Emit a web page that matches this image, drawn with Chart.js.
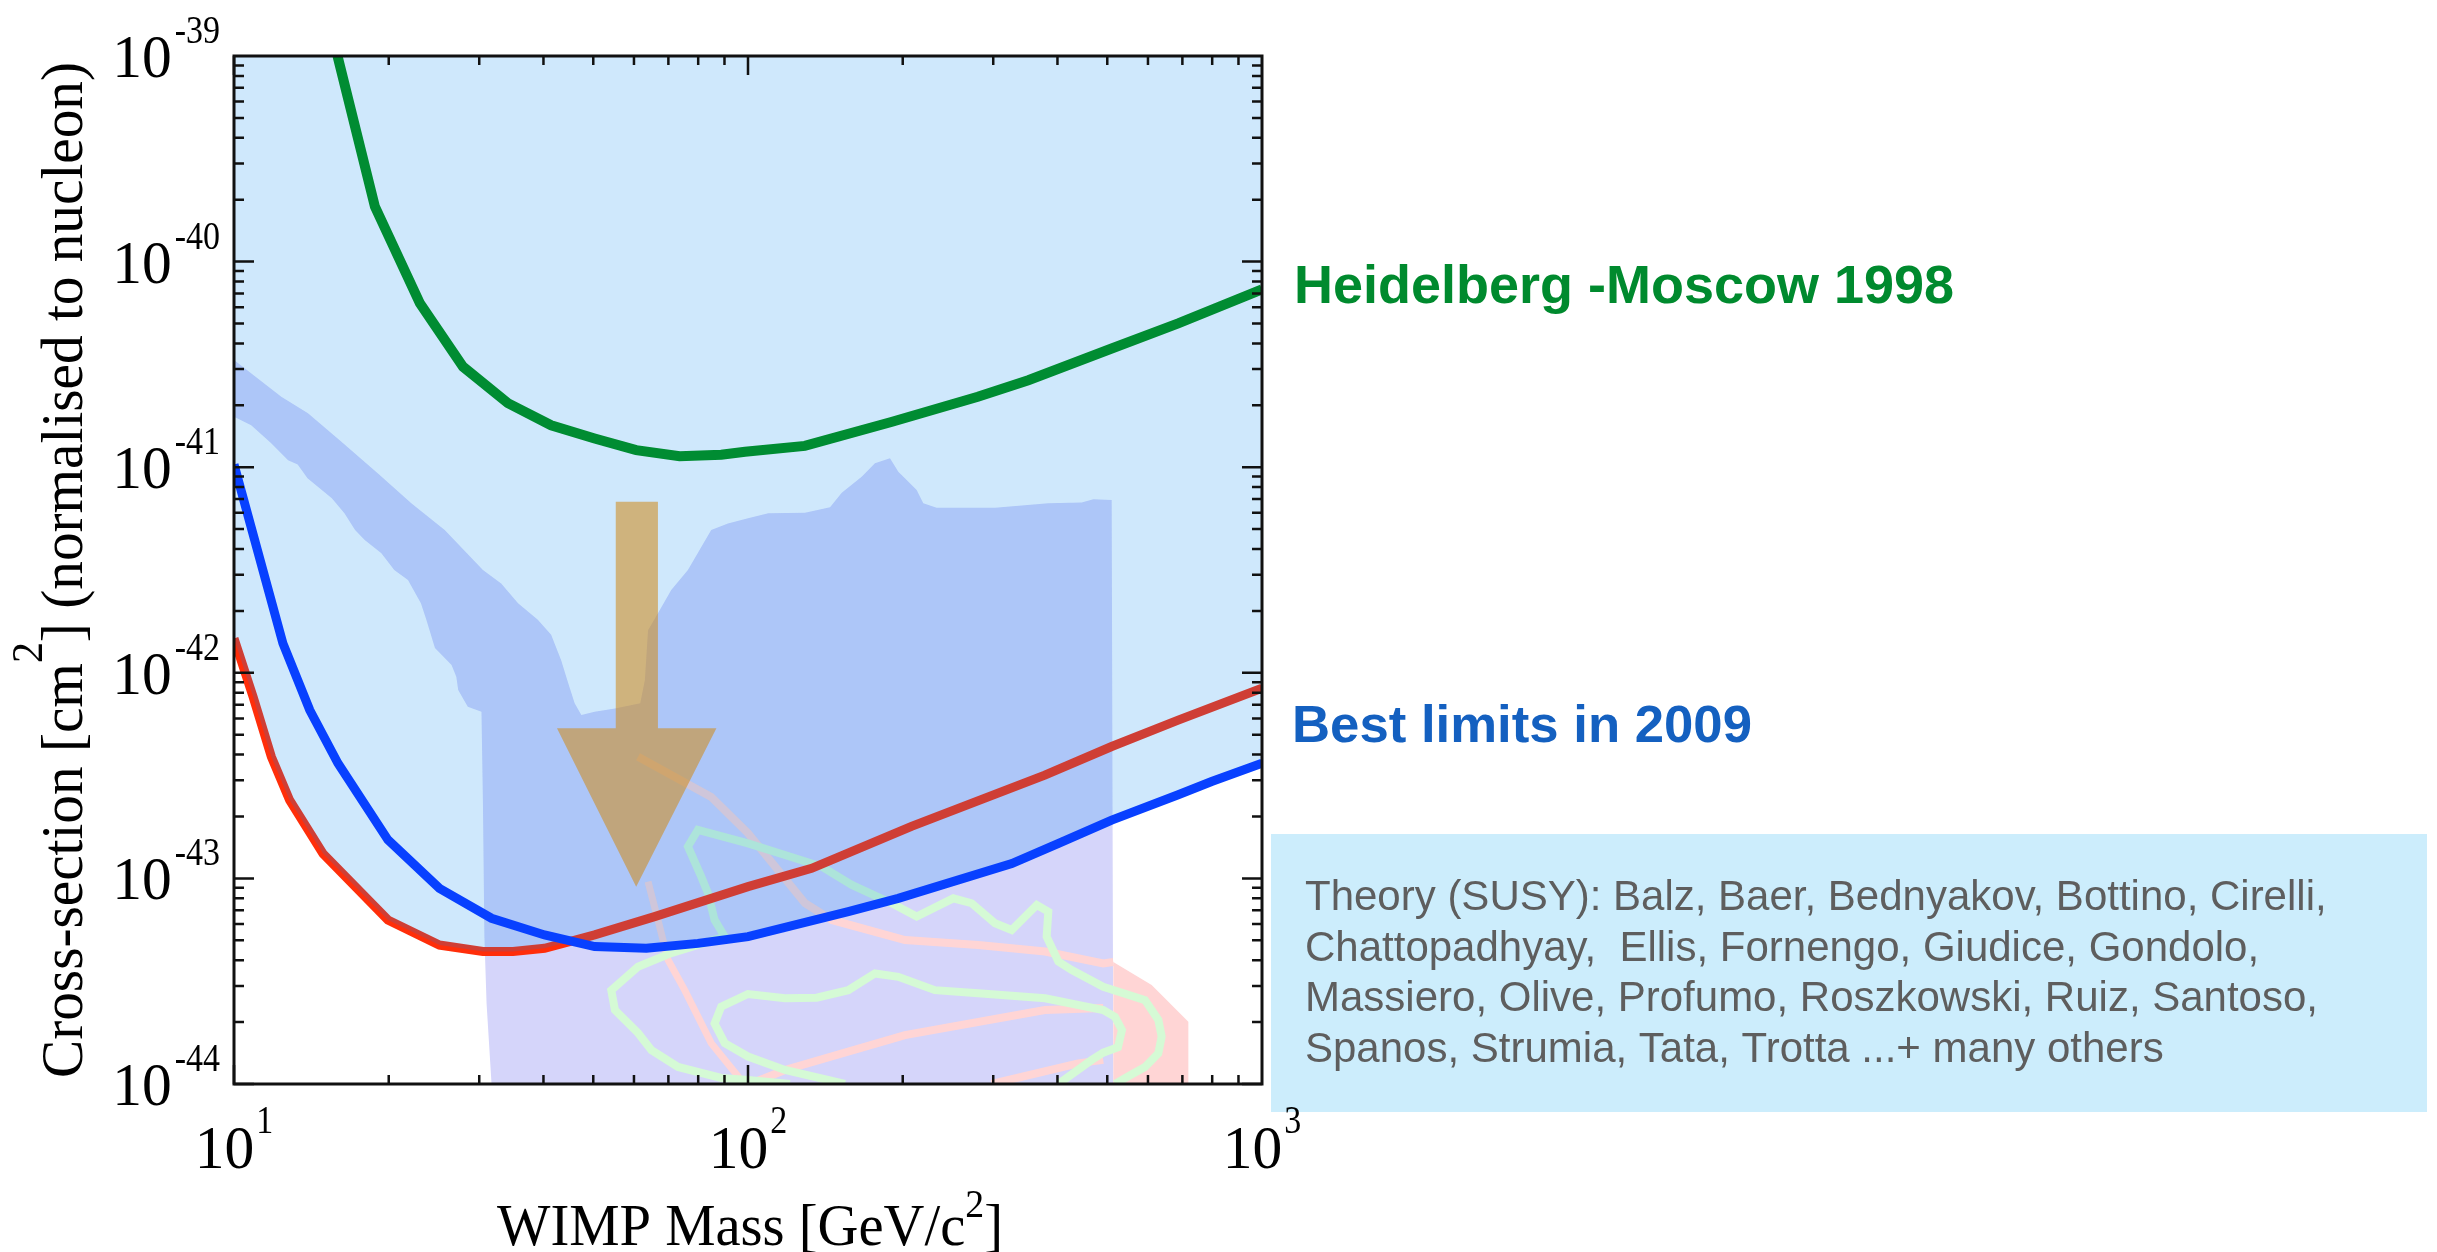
<!DOCTYPE html>
<html>
<head>
<meta charset="utf-8">
<title>WIMP cross-section limits</title>
<script src="https://cdn.jsdelivr.net/npm/chart.js@4.4.1/dist/chart.umd.min.js"></script>
<style>
  html, body { margin: 0; padding: 0; background: #fff; overflow: hidden; }
  #limits { display: block; }
</style>
</head>
<body>
<canvas id="limits" width="2437" height="1252"></canvas>
<script>
// WIMP mass [GeV/c^2] and cross-section [cm^2]

// Heidelberg-Moscow 1998 limit (green)
var hmMass  = [15.9, 18.8, 23.0, 27.9, 34.1, 41.4, 50.3, 60.6, 73.6, 88.7, 98.7, 129, 190, 280, 351, 510, 687, 1000];
var hmSigma = [1e-39, 1.85e-40, 6.27e-41, 3.08e-41, 2.05e-41, 1.60e-41, 1.38e-41, 1.21e-41, 1.13e-41, 1.15e-41,
               1.19e-41, 1.27e-41, 1.66e-41, 2.20e-41, 2.65e-41, 3.78e-41, 5.01e-41, 7.33e-41];

// best limits in 2009 (blue)
var bestMass  = [10, 12.45, 14.04, 15.93, 19.93, 25.1, 31.7, 40.2, 50.3, 63.4, 79.9, 100, 156.7, 196, 326, 402, 510, 687, 798, 1000];
var bestSigma = [1.03e-41, 1.39e-42, 6.59e-43, 3.63e-43, 1.54e-43, 8.95e-44, 6.40e-44, 5.31e-44, 4.66e-44, 4.57e-44,
                 4.83e-44, 5.21e-44, 6.89e-44, 8.0e-44, 1.18e-43, 1.48e-43, 1.92e-43, 2.55e-43, 2.96e-43, 3.63e-43];

// second 2009 limit (red)
var redMass  = [10, 10.89, 11.82, 12.83, 14.9, 19.93, 25.1, 30.5, 34.9, 40.2, 50.3, 65.8, 100, 133, 208, 378, 510, 687, 1000];
var redSigma = [1.47e-42, 7.66e-43, 3.91e-43, 2.40e-43, 1.32e-43, 6.28e-44, 4.74e-44, 4.41e-44, 4.41e-44, 4.57e-44,
                5.31e-44, 6.52e-44, 9.12e-44, 1.12e-43, 1.79e-43, 3.18e-43, 4.38e-43, 5.89e-43, 8.41e-43];

// where the red and blue limits cross
var crossMass = 45.3;
var crossSigma = 4.95e-44;

// SUSY theory region outline (band + box), walked round as a closed shape
var susyMass  = [10.0, 12.36, 13.93, 16.18, 19.06, 22.13, 25.7, 30.5, 33.1, 35.7, 39.0, 41.4, 43.3, 44.7, 46.0, 47.4,
                 50.3, 55.1, 61.7, 63.0, 63.9, 66.8, 70.9, 76.4, 84.8, 91.4, 100, 109.5, 129.1, 144.4, 152.2, 166.4,
                 176.6, 188.9, 196.1, 212.9, 219.3, 232.8, 302.4, 383.9, 445.9, 469.8, 510, 513.7, 31.7, 31.0, 30.7,
                 30.5, 30.3, 28.5, 27.3, 27.07, 26.5, 24.6, 23.67, 23.1, 21.8, 20.5, 19.35, 17.96, 17.2, 16.4, 15.5,
                 13.9, 13.3, 12.74, 11.8, 10.8, 10.0];
var susySigma = [3.32e-41, 2.20e-41, 1.83e-41, 1.33e-41, 9.33e-42, 6.67e-42, 4.95e-42, 3.16e-42, 2.72e-42, 2.18e-42,
                 1.81e-42, 1.53e-42, 1.15e-42, 8.89e-43, 7.11e-43, 6.24e-43, 6.47e-43, 6.71e-43, 7.11e-43, 9.23e-43,
                 1.61e-42, 1.95e-42, 2.53e-42, 3.16e-42, 4.95e-42, 5.33e-42, 5.65e-42, 5.97e-42, 6.01e-42, 6.38e-42,
                 7.52e-42, 8.99e-42, 1.045e-41, 1.104e-41, 9.51e-42, 7.74e-42, 6.67e-42, 6.35e-42, 6.35e-42, 6.67e-42,
                 6.73e-42, 6.98e-42, 6.92e-42, 1e-44, 1e-44, 2.47e-44, 5.21e-44, 2.32e-43, 6.47e-43, 6.84e-43, 8.24e-43,
                 9.57e-43, 1.09e-42, 1.32e-42, 1.81e-42, 2.18e-42, 2.83e-42, 3.16e-42, 3.81e-42, 4.43e-42, 4.95e-42,
                 5.97e-42, 7.06e-42, 8.83e-42, 1.03e-41, 1.08e-41, 1.31e-41, 1.60e-41, 1.76e-41];

// theory contours (green and pink)
var greenOuterMass  = [120.7, 100, 88.7, 73.1, 64.9, 61.1, 55.1, 54.2, 61.1, 70.9, 90.1, 86.1, 83.6, 81.1, 76.4, 79.9,
                       100, 118, 139.1, 159.2, 190.4, 212.9, 250.8, 272.4, 302.4, 325.8, 364.6, 383.9, 381.1, 401.6,
                       426.5, 491, 592, 628.5, 638, 628.5, 592, 549.5, 517.6];
var greenOuterSigma = [1e-44, 1.045e-44, 1.07e-44, 1.21e-44, 1.46e-44, 1.77e-44, 2.29e-44, 2.86e-44, 3.72e-44, 4.33e-44,
                       5.21e-44, 6.28e-44, 8.47e-44, 1.02e-43, 1.43e-43, 1.72e-43, 1.48e-43, 1.30e-43, 1.14e-43, 9.29e-44,
                       7.57e-44, 6.52e-44, 8.0e-44, 7.57e-44, 6.05e-44, 5.61e-44, 7.43e-44, 6.89e-44, 5.21e-44, 3.94e-44,
                       3.58e-44, 2.97e-44, 2.56e-44, 2.05e-44, 1.70e-44, 1.41e-44, 1.21e-44, 1.09e-44, 1e-44];
var greenInnerMass  = [154.4, 118, 100, 90.1, 86.1, 88.7, 100, 118, 136, 156.7, 176.6, 196.1, 231, 280.5, 378.4, 491,
                       517.6, 534, 524.5, 491, 466.4, 401.6];
var greenInnerSigma = [1e-44, 1.17e-44, 1.36e-44, 1.58e-44, 1.97e-44, 2.38e-44, 2.74e-44, 2.61e-44, 2.63e-44, 2.86e-44,
                       3.45e-44, 3.32e-44, 2.86e-44, 2.76e-44, 2.61e-44, 2.29e-44, 2.12e-44, 1.83e-44, 1.51e-44, 1.42e-44,
                       1.31e-44, 1e-44];
var pinkAMass  = [61.1, 84.8, 100, 129.1, 145.5, 202, 280.5, 378.4, 491, 513.7];
var pinkASigma = [3.91e-43, 2.49e-43, 1.66e-43, 7.57e-44, 6.28e-44, 5.01e-44, 4.74e-44, 4.41e-44, 3.86e-44, 3.92e-44];
var pinkBMass  = [100.9, 118, 202, 378, 491];
var pinkBSigma = [1e-44, 1.17e-44, 1.73e-44, 2.29e-44, 2.34e-44];
var pinkCMass  = [63.9, 66.8, 69.9, 75.3, 84.8, 95.6, 98.5];
var pinkCSigma = [9.64e-44, 6.28e-44, 4.01e-44, 2.86e-44, 1.58e-44, 1.09e-44, 1e-44];
var pinkDMass  = [298, 439, 491];
var pinkDSigma = [1e-44, 1.26e-44, 1.31e-44];
var pinkZoneMass  = [513.7, 610, 719, 719, 513.7];
var pinkZoneSigma = [3.92e-44, 3.03e-44, 2.01e-44, 1e-44, 1e-44];

// the big arrow, in data units
var arrowMass  = [55.3, 66.8, 66.8, 86.8, 60.6, 42.5, 55.3];
var arrowSigma = [6.79e-42, 6.79e-42, 5.37e-43, 5.37e-43, 9.12e-44, 5.37e-43, 5.37e-43];

// ticks
var xDecades = [10, 100, 1000];
var xExponents = ['1', '2', '3'];
var yDecades = [1e-44, 1e-43, 1e-42, 1e-41, 1e-40, 1e-39];
var yExponents = ['-44', '-43', '-42', '-41', '-40', '-39'];

var theoryLines = [
    'Theory (SUSY): Balz, Baer, Bednyakov, Bottino, Cirelli,',
    'Chattopadhyay,  Ellis, Fornengo, Giudice, Gondolo,',
    'Massiero, Olive, Profumo, Roszkowski, Ruiz, Santoso,',
    'Spanos, Strumia, Tata, Trotta ...+ many others'
];

var SERIF = '"Liberation Serif", "Times New Roman", serif';
var SANS = '"Liberation Sans", Arial, Helvetica, sans-serif';

function pts(xs, ys) {
    return xs.map(function (x, i) { return { x: x, y: ys[i] }; });
}

// lower edge of the excluded region: red limit until the crossing, blue after
var envelope = pts(redMass, redSigma).filter(function (p) { return p.x < crossMass; })
    .concat([{ x: crossMass, y: crossSigma }])
    .concat(pts(bestMass, bestSigma).filter(function (p) { return p.x > crossMass; }));

function runWidth(ctx, parts) {
    var w = 0;
    parts.forEach(function (p) { ctx.font = p.font; w += ctx.measureText(p.t).width; });
    return w;
}

function drawRun(ctx, parts, x, y, sx) {
    var cx = x;
    parts.forEach(function (p) {
        ctx.font = p.font;
        ctx.save();
        ctx.translate(cx, y + p.dy);
        ctx.scale(sx, 1);
        ctx.fillText(p.t, 0, 0);
        ctx.restore();
        cx += ctx.measureText(p.t).width * sx;
    });
}

function fitText(ctx, str, font, x, y, width) {
    ctx.font = font;
    var sx = width / ctx.measureText(str).width;
    ctx.save();
    ctx.translate(x, y);
    ctx.scale(sx, 1);
    ctx.fillText(str, 0, 0);
    ctx.restore();
}

var framePlugin = {
    id: 'frame',
    afterDatasetsDraw: function (chart) {
        var ctx = chart.ctx, a = chart.chartArea, xs = chart.scales.x, ys = chart.scales.y;
        ctx.save();
        ctx.strokeStyle = '#111';
        ctx.lineWidth = 2.5;
        ctx.beginPath();
        for (var e = 1; e < 3; e++) {
            for (var k = 1; k < 10; k++) {
                var px = xs.getPixelForValue(k * Math.pow(10, e));
                var len = k === 1 ? 19 : 9;
                ctx.moveTo(px, a.bottom); ctx.lineTo(px, a.bottom - len);
                ctx.moveTo(px, a.top); ctx.lineTo(px, a.top + len);
            }
        }
        for (var ey = -44; ey < -39; ey++) {
            for (var j = 1; j < 10; j++) {
                var py = ys.getPixelForValue(j * Math.pow(10, ey));
                var l2 = j === 1 ? 20 : 10;
                ctx.moveTo(a.left, py); ctx.lineTo(a.left + l2, py);
                ctx.moveTo(a.right, py); ctx.lineTo(a.right - l2, py);
            }
        }
        ctx.stroke();
        ctx.lineWidth = 3;
        ctx.strokeRect(a.left, a.top, a.right - a.left, a.bottom - a.top);
        ctx.restore();
    }
};

var textPlugin = {
    id: 'texts',
    afterDraw: function (chart) {
        var ctx = chart.ctx, a = chart.chartArea, xs = chart.scales.x, ys = chart.scales.y;
        ctx.save();
        ctx.textAlign = 'left';
        ctx.textBaseline = 'alphabetic';

        // theory box
        ctx.fillStyle = '#ccedfc';
        ctx.fillRect(1271, 834, 1156, 278);
        ctx.fillStyle = '#5e5e5e';
        ctx.font = '42px ' + SANS;
        theoryLines.forEach(function (line, i) {
            ctx.fillText(line, 1305, 910 + i * 50.5);
        });

        // curve names
        ctx.fillStyle = '#008a2e';
        fitText(ctx, 'Heidelberg -Moscow 1998', 'bold 53px ' + SANS, 1294, 303, 660);
        ctx.fillStyle = '#1460c0';
        fitText(ctx, 'Best limits in 2009', 'bold 52px ' + SANS, 1292, 742, 460);

        // tick labels
        ctx.fillStyle = '#000';
        var sqBig = 0.96, sqSmall = 0.85;
        var big = '62px ' + SERIF, small = '40px ' + SERIF;
        yDecades.forEach(function (v, i) {
            var py = ys.getPixelForValue(v);
            ctx.font = small;
            var supW = ctx.measureText(yExponents[i]).width * sqSmall;
            ctx.font = big;
            var baseW = ctx.measureText('10').width * sqBig;
            var supX = a.left - 14 - supW;
            drawRun(ctx, [{ t: '10', font: big, dy: 21 }], supX - 3 - baseW, py, sqBig);
            drawRun(ctx, [{ t: yExponents[i], font: small, dy: -13 }], supX, py, sqSmall);
        });
        xDecades.forEach(function (v, i) {
            var px = xs.getPixelForValue(v);
            ctx.font = big;
            var baseW = ctx.measureText('10').width * sqBig;
            ctx.font = small;
            var supW = ctx.measureText(xExponents[i]).width * sqSmall;
            var left = px - (baseW + 2 + supW) / 2;
            drawRun(ctx, [{ t: '10', font: big, dy: 0 }], left, a.bottom + 84, sqBig);
            drawRun(ctx, [{ t: xExponents[i], font: small, dy: 0 }], left + baseW + 2, a.bottom + 49, sqSmall);
        });

        // axis titles
        var tBig = '60px ' + SERIF, tSmall = '40px ' + SERIF;
        var xTitle = [{ t: 'WIMP Mass [GeV/c', font: tBig, dy: 0 }, { t: '2', font: tSmall, dy: -28 },
                      { t: ']', font: tBig, dy: 0 }];
        var xW = 506;
        drawRun(ctx, xTitle, (a.left + a.right) / 2 + 2 - xW / 2, a.bottom + 161, xW / runWidth(ctx, xTitle));

        var yTitle = [{ t: 'Cross-section [cm', font: tBig, dy: 0 }, { t: '2', font: '44px ' + SERIF, dy: -40 },
                      { t: '] (normalised to nucleon)', font: tBig, dy: 0 }];
        var yW = 1016;
        ctx.save();
        ctx.translate(82, (a.top + a.bottom) / 2 + yW / 2);
        ctx.rotate(-Math.PI / 2);
        drawRun(ctx, yTitle, 0, 0, yW / runWidth(ctx, yTitle));
        ctx.restore();

        ctx.restore();
    }
};

function lineSet(label, data, color, width) {
    return { label: label, data: data, borderColor: color, borderWidth: width, fill: false };
}

var chart = new Chart(document.getElementById('limits'), {
    type: 'line',
    data: {
        datasets: [
            { label: 'arrow', data: pts(arrowMass, arrowSigma), fill: 'shape',
              backgroundColor: 'rgba(207,142,35,0.58)', borderWidth: 0, borderColor: 'rgba(0,0,0,0)' },
            lineSet('Heidelberg -Moscow 1998', pts(hmMass, hmSigma), '#008c32', 10),
            lineSet('Best limits in 2009', pts(bestMass, bestSigma), '#0840ff', 9),
            { label: 'excluded', data: envelope, fill: 'end',
              backgroundColor: 'rgba(0,134,239,0.19)', borderWidth: 0, borderColor: 'rgba(0,0,0,0)' },
            lineSet('2009 limit (red)', pts(redMass, redSigma), '#ff2e0a', 9),
            lineSet('contour', pts(greenOuterMass, greenOuterSigma), '#d5fad5', 8),
            lineSet('contour', pts(greenInnerMass, greenInnerSigma), '#d5fad5', 8),
            lineSet('contour', pts(pinkAMass, pinkASigma), '#ffd5d5', 8),
            lineSet('contour', pts(pinkBMass, pinkBSigma), '#ffd5d5', 8),
            lineSet('contour', pts(pinkCMass, pinkCSigma), '#ffd5d5', 7),
            lineSet('contour', pts(pinkDMass, pinkDSigma), '#ffd5d5', 8),
            { label: 'pink zone', data: pts(pinkZoneMass, pinkZoneSigma), fill: 'shape',
              backgroundColor: '#ffd5d5', borderWidth: 0, borderColor: 'rgba(0,0,0,0)' },
            { label: 'Theory (SUSY)', data: pts(susyMass, susySigma), fill: 'shape',
              backgroundColor: '#d5d5fa', borderWidth: 0, borderColor: 'rgba(0,0,0,0)' }
        ]
    },
    options: {
        responsive: false,
        animation: false,
        devicePixelRatio: 1,
        events: [],
        layout: { padding: { left: 234, top: 56, right: 1175, bottom: 168 } },
        datasets: { line: { pointRadius: 0, tension: 0, clip: 0 } },
        plugins: {
            legend: { display: false },
            tooltip: { enabled: false },
            title: { display: false }
        },
        scales: {
            x: { type: 'logarithmic', min: 10, max: 1000, display: false },
            y: { type: 'logarithmic', min: 1e-44, max: 1e-39, display: false }
        }
    },
    plugins: [framePlugin, textPlugin]
});
</script>
</body>
</html>
